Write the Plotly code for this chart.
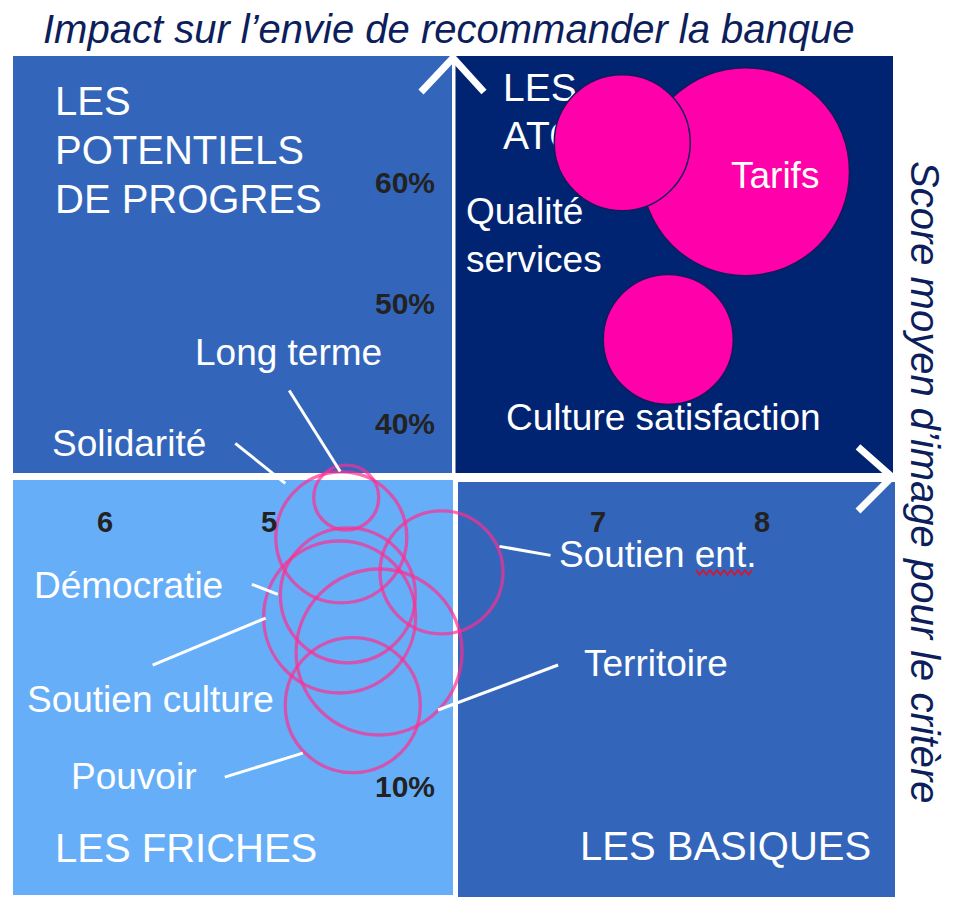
import plotly.graph_objects as go

# Critères : score moyen d'image (x), impact sur l'envie de recommander en % (y), poids de la bulle
criteres = ["Tarifs", "Qualité services", "Culture satisfaction", "Long terme", "Solidarité",
            "Soutien ent.", "Démocratie", "Soutien culture", "Territoire", "Pouvoir"]
score_image = [7.90, 7.15, 7.43, 5.47, 5.44, 6.05, 5.48, 5.43, 5.67, 5.51]
impact_reco = [60.9, 63.3, 47.0, 33.9, 30.6, 27.7, 25.8, 24.0, 21.1, 16.7]
poids = [208, 136, 130, 65, 131, 123, 135, 152, 166, 135]
atouts = ["Tarifs", "Qualité services", "Culture satisfaction"]

# Graduations telles qu'écrites sur le graphique
x_ticks = [4, 5, 7, 8]
x_tick_labels = ["6", "5", "7", "8"]
y_ticks = [60, 50, 40, 10]
y_tick_labels = ["60%", "50%", "40%", "10%"]

# Quadrants (texte)
quadrants = ["LES<br>POTENTIELS<br>DE PROGRES", "LES<br>ATOUTS", "LES FRICHES", "LES BASIQUES"]

# --- mise en page ---
OFF = 8  # marge par défaut du <body> de la page
W, H = 954 - OFF, 910 - OFF
M = dict(l=13 - OFF, r=954 - 895, t=56 - OFF, b=910 - 897)
X_RANGE = [3.442, 8.810]
Y_RANGE = [0.804, 70.48]
PW, PH = W - M["l"] - M["r"], H - M["t"] - M["b"]

FONT = "Liberation Sans, Arial, sans-serif"
NAVY = "#0C1E5B"
PINK_FILL = "#FF00AA"
PINK_LINE = "#FF2E92"


def px(x):  # pixel de la page -> paper
    return (x - 13) / PW


def py(y):
    return (897 - y) / PH


def xd(x):  # pixel de la page -> données
    return X_RANGE[0] + px(x) * (X_RANGE[1] - X_RANGE[0])


def yd(y):
    return Y_RANGE[0] + py(y) * (Y_RANGE[1] - Y_RANGE[0])


# décalages des étiquettes (px écran par rapport au centre de la bulle)
label_offsets = {
    "Tarifs": (30, 4),
    "Qualité services": (-158, 93),
    "Culture satisfaction": (-5, 78),
    "Long terme": (-58, -145),
    "Solidarité": (-212, -94),
    "Soutien ent.": (216, -18),
    "Démocratie": (-219, -10),
    "Soutien culture": (-189, 82),
    "Territoire": (277, 11),
    "Pouvoir": (-219, 71),
}
# traits de rappel : (tête dx, dy, queue dx, dy)
leaders = {
    "Long terme": (-6, -26, -57, -107),
    "Solidarité": (-56, -54, -106, -94),
    "Soutien ent.": (58, -26, 109, -17),
    "Démocratie": (-70, -1, -96, -11),
    "Soutien culture": (-74, 1, -187, 48),
    "Territoire": (59, 58, 179, 13),
    "Pouvoir": (-50, 48, -128, 72),
}

fig = go.Figure()

# "LES ATOUTS" sous les bulles
fig.add_trace(go.Scatter(
    x=[xd(503), xd(503)], y=[yd(91), yd(139)], text=quadrants[1].split("<br>"),
    mode="text", textposition="middle right", hoverinfo="skip",
    textfont=dict(family=FONT, size=39, color="white")))

idx_f = [i for i, c in enumerate(criteres) if c in atouts]
idx_o = [i for i, c in enumerate(criteres) if c not in atouts]

fig.add_trace(go.Scatter(
    x=[score_image[i] for i in idx_f], y=[impact_reco[i] for i in idx_f], mode="markers",
    marker=dict(size=[poids[i] for i in idx_f], sizemode="diameter", sizeref=1,
                color=PINK_FILL, line=dict(color="#14195A", width=1.5), opacity=1),
    hoverinfo="skip"))

fig.add_trace(go.Scatter(
    x=[score_image[i] for i in idx_o], y=[impact_reco[i] for i in idx_o], mode="markers",
    marker=dict(size=[poids[i] for i in idx_o], sizemode="diameter", sizeref=1,
                color="rgba(0,0,0,0)", line=dict(color=PINK_LINE, width=3.3)),
    hoverinfo="skip"))

shapes = []
# quadrants
for x0, y0, x1, y1, col in [(13, 56, 452, 473, "#3366BB"), (455.5, 56, 893, 473, "#002472"),
                            (13, 480, 453, 895, "#66AFF8"), (458, 482, 895, 897, "#3366BB")]:
    shapes.append(dict(type="rect", xref="paper", yref="paper", x0=px(x0), x1=px(x1),
                       y0=py(y1), y1=py(y0), fillcolor=col, line_width=0, layer="below"))
# flèches des axes
for pts in [[(421, 92), (453, 58), (484, 92)], [(858, 447), (892, 477), (858, 511)]]:
    path = "M" + " L".join(f"{px(a):.5f},{py(b):.5f}" for a, b in pts)
    shapes.append(dict(type="path", xref="paper", yref="paper", path=path,
                       line=dict(color="white", width=7), layer="below"))
# traits de rappel
for i, c in enumerate(criteres):
    if c in leaders:
        hx, hy, tx, ty = leaders[c]
        shapes.append(dict(type="line", xref="x", yref="y", xsizemode="pixel", ysizemode="pixel",
                           xanchor=score_image[i], yanchor=impact_reco[i],
                           x0=hx, x1=tx, y0=-hy, y1=-ty, line=dict(color="white", width=3)))
# soulignement ondulé sous "ent."
zz = [(696 + k * 3.5, 570 if k % 2 == 0 else 575) for k in range(17)]
shapes.append(dict(type="path", xref="paper", yref="paper",
                   path="M" + " L".join(f"{px(a):.5f},{py(b):.5f}" for a, b in zz),
                   line=dict(color="#E0102A", width=1.5)))

ann = []
for i, c in enumerate(criteres):
    dx, dy = label_offsets[c]
    ann.append(dict(x=score_image[i], y=impact_reco[i], xref="x", yref="y",
                    text=c.replace("Qualité ", "Qualité<br>"), showarrow=False,
                    xshift=dx, yshift=-dy, xanchor="left" if c == "Qualité services" else "center",
                    yanchor="middle", align="left", font=dict(family=FONT, size=37, color="white")))
for v, t in zip(x_ticks, x_tick_labels):
    ann.append(dict(x=v, y=yd(522), xref="x", yref="y", text=t, showarrow=False,
                    xanchor="center", yanchor="middle",
                    font=dict(family=FONT, size=29, color="#222222", weight=700)))
for v, t in zip(y_ticks, y_tick_labels):
    ann.append(dict(x=xd(405), y=v, xref="x", yref="y", text=t, showarrow=False,
                    xanchor="center", yanchor="middle",
                    font=dict(family=FONT, size=30, color="#222222", weight=700)))


def paper_text(x, y, t, size, anchor="left", **kw):
    ann.append(dict(x=px(x), y=py(y), xref="paper", yref="paper", text=t, showarrow=False,
                    xanchor=anchor, yanchor="middle", font=dict(family=FONT, size=size, **kw)))


# titres de quadrants
for i, t in enumerate(quadrants[0].split("<br>")):
    paper_text(53, 101 + 49 * i, t, 40, color="white")
paper_text(53, 848, quadrants[2], 40, color="white")
paper_text(873, 846, quadrants[3], 40, anchor="right", color="white")
# titres des axes
paper_text(449, 29, "Impact sur l’envie de recommander la banque", 40, anchor="center",
           color=NAVY, style="italic")
ann.append(dict(x=px(925), y=py(482), xref="paper", yref="paper",
                text="Score moyen d’image pour le critère", showarrow=False, textangle=90,
                xanchor="center", yanchor="middle",
                font=dict(family=FONT, size=40, color=NAVY, style="italic")))

fig.update_layout(
    width=W, height=H, margin=M, showlegend=False,
    paper_bgcolor="white", plot_bgcolor="white",
    xaxis=dict(range=X_RANGE, visible=False, fixedrange=True),
    yaxis=dict(range=Y_RANGE, visible=False, fixedrange=True),
    shapes=shapes, annotations=ann,
)

fig.write_html("out.html")
